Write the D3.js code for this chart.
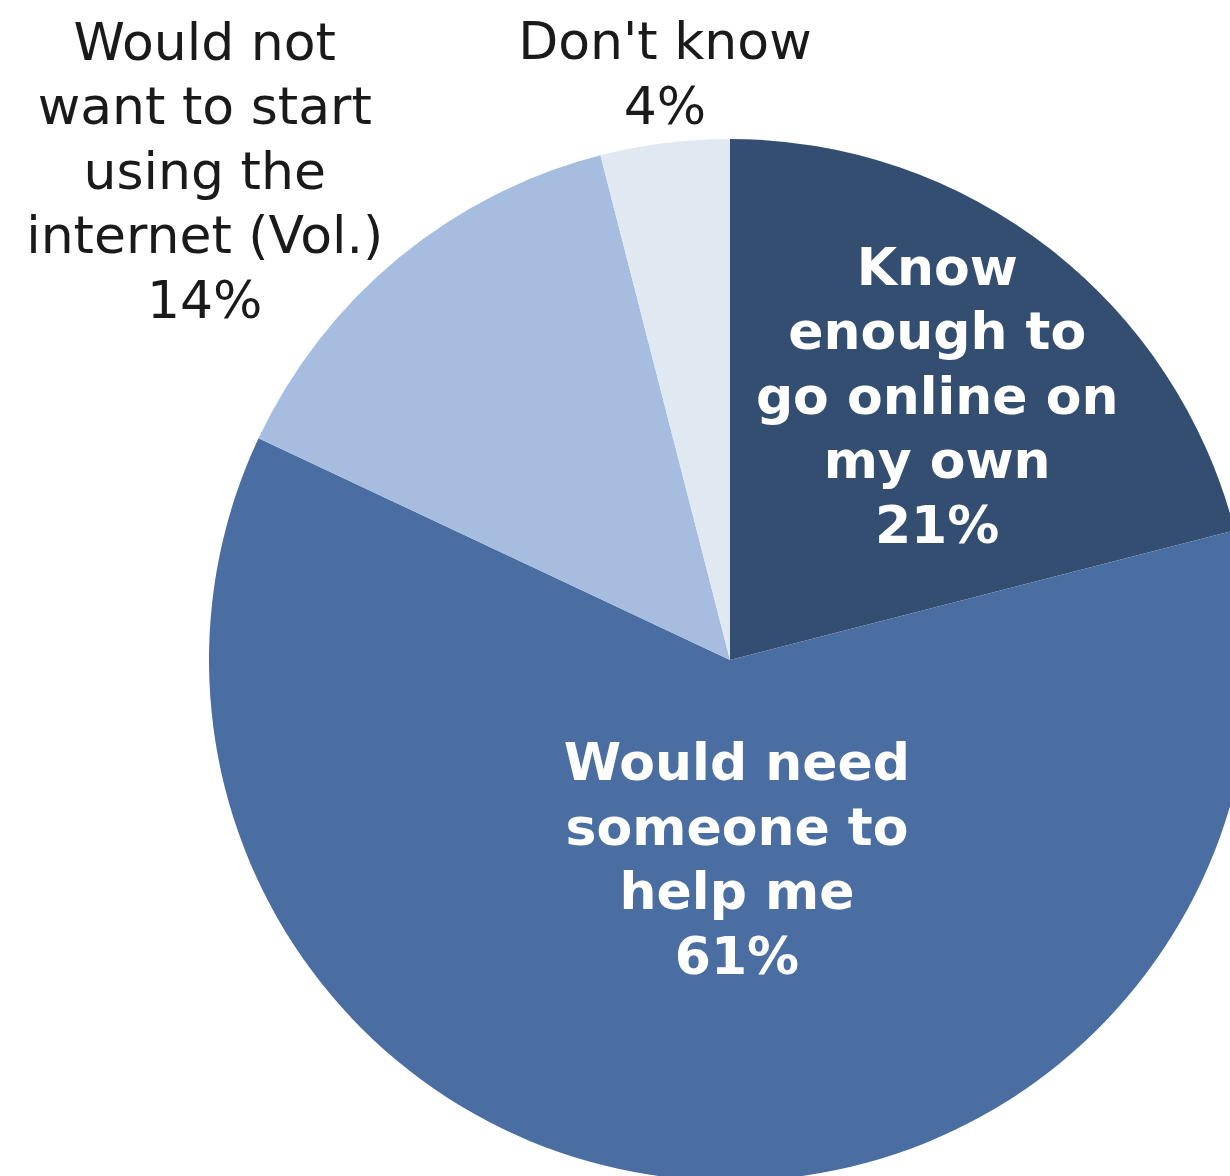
<!DOCTYPE html>
<html>
<head>
<meta charset="utf-8">
<script src="https://cdn.jsdelivr.net/npm/d3@7"></script>
<style>
  html, body { margin: 0; padding: 0; background: #ffffff; }
  svg { display: block; }
  text { font-family: "DejaVu Sans", Verdana, sans-serif; white-space: pre; }
</style>
</head>
<body>
<svg id="chart" width="1230" height="1176"></svg>
<script>
// ---- data ----
const categories = [
  "Know enough to go online on my own",
  "Would need someone to help me",
  "Would not want to start using the internet (Vol.)",
  "Don't know"
];
const values = [21, 61, 14, 4];
const labelLines = [
  ["Know", "enough to", "go online on", "my own"],
  ["Would need", "someone to", "help me"],
  ["Would not", "want to start", "using the", "internet (Vol.)"],
  ["Don't know"]
];
const colors = ["#344e72", "#4a6ea2", "#a6bde0", "#e0e8f2"];

// ---- layout ----
const cx = 730, cy = 660, R = 521;
const svg = d3.select("#chart");
const g = svg.append("g").attr("transform", `translate(${cx},${cy})`);

const pie = d3.pie().sort(null).value(d => d.value);
const arcs = pie(values.map((v, i) => ({ value: v, i })));
const arc = d3.arc().innerRadius(0).outerRadius(R);

g.selectAll("path.slice")
  .data(arcs)
  .join("path")
  .attr("class", "slice")
  .attr("d", arc)
  .attr("fill", (d, i) => colors[i]);

// label placement: distance from centre along slice mid-angle (+ small angle offset)
const labelCfg = [
  { rad: 335, bold: true,  fill: "#ffffff", angOff: 0.007 },
  { rad: 200, bold: true,  fill: "#ffffff", angOff: -0.129 },
  { rad: 717, bold: false, fill: "#1a1a1a", angOff: -0.131 },
  { rad: 589, bold: false, fill: "#1a1a1a", angOff: 0.015 }
];
const fontSize = 52, lineH = 64.5;

arcs.forEach((a, i) => {
  const cfg = labelCfg[i];
  const mid = (a.startAngle + a.endAngle) / 2 + cfg.angOff;
  const x = cfg.rad * Math.sin(mid);
  const y = -cfg.rad * Math.cos(mid);
  const lines = labelLines[i].concat([values[i] + "%"]);
  const n = lines.length;
  const t = g.append("text")
    .attr("text-anchor", "middle")
    .attr("font-size", fontSize)
    .attr("font-weight", cfg.bold ? "bold" : "normal")
    .attr("fill", cfg.fill);
  lines.forEach((ln, k) => {
    t.append("tspan")
      .attr("x", x)
      .attr("y", y + (k - (n - 1) / 2) * lineH + 17)
      .text(ln);
  });
});
</script>
</body>
</html>
